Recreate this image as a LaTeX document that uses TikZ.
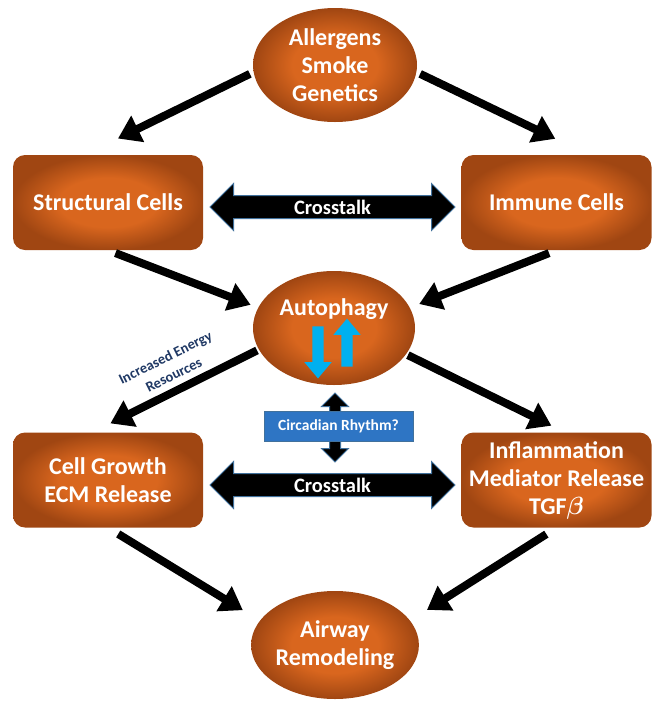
\documentclass[tikz,border=0pt]{standalone}
\usepackage{fontspec}
\setmainfont{Carlito}
\usetikzlibrary{shapes.geometric, shapes.arrows, arrows.meta}
\definecolor{orcenter}{HTML}{D9661E}
\definecolor{oredge}{HTML}{A04612}
\definecolor{xtalkline}{HTML}{41719C}
\definecolor{circblue}{HTML}{2E75C4}
\definecolor{updown}{HTML}{00B0F0}
\definecolor{energy}{HTML}{1F3864}
\pgfdeclareradialshading{orglow}{\pgfpoint{0bp}{0bp}}{color(0bp)=(orcenter); color(13bp)=(orcenter); color(25bp)=(oredge); color(50bp)=(oredge)}
\tikzset{
  big text/.style={text=white, font=\bfseries\fontsize{24}{28}\selectfont, align=center},
  oval node/.style={ellipse, shading=orglow, big text, inner sep=0pt},
  cell node/.style={rectangle, rounded corners=12pt, shading=orglow, big text, inner sep=0pt,
    minimum width=190pt, minimum height=95pt},
  flow/.style={line width=8pt, -{Triangle[length=22pt,width=28pt]}},
  crosstalk/.style={double arrow, fill=black, draw=xtalkline, line width=1pt,
    double arrow head extend=12pt, double arrow tip angle=90, minimum height=245pt,
    inner xsep=0pt, inner ysep=4pt, text height=14pt, text depth=0pt, text=white,
    font=\bfseries\fontsize{20.5}{24}\selectfont},
  updown arrow/.style={single arrow, fill=updown, inner sep=5.5pt,
    single arrow head extend=8pt, single arrow tip angle=80},
}
\begin{document}
\begin{tikzpicture}[x=1pt, y=-1pt]
    \useasboundingbox (0,0) rectangle (654,705);
    % Causes and outcome
    \node[oval node, minimum width=164pt, minimum height=114pt] (top) at (335,65) {Allergens\\Smoke\\Genetics};
    \node[oval node, minimum width=162pt, minimum height=114pt, text height=17pt, text depth=43pt] (auto) at (334,328) {Autophagy};
    \node[oval node, minimum width=156pt, minimum height=108pt] (airway) at (335,645) {Airway\\Remodeling};
    % Cells
    \node[cell node] (struct) at (108,202.5) {Structural Cells};
    \node[cell node] (immune) at (556.5,202.5) {Immune Cells};
    % Responses
    \node[cell node] (growth) at (108,480) {Cell Growth\\ECM Release};
    \node[cell node] (inflam) at (556.5,480) {Inflammation\\Mediator Release\\TGF{\boldmath$\beta$}};
    % Crosstalk
    \node[crosstalk] (xtop) at (332.5,207) {Crosstalk};
    \node[crosstalk] (xbot) at (332.5,485) {Crosstalk};
    % Autophagy up and down
    \node[updown arrow, rotate=-90, minimum height=52pt] (down) at (318,349) {};
    \node[updown arrow, rotate=90, minimum height=48pt] (up) at (347,346) {};
    % Circadian rhythm
    \node[double arrow, rotate=90, fill=black, draw=xtalkline, line width=1pt, inner sep=5pt,
      double arrow head extend=8pt, double arrow tip angle=90, minimum height=69pt] (rhythm) at (335,427.5) {};
    \node[rectangle, fill=circblue, draw=xtalkline, text=white, minimum width=149pt, minimum height=30pt,
      font=\bfseries\fontsize{15.5}{18}\selectfont] (circ) at (338.5,426) {Circadian Rhythm?};
    % Paths
    \path[flow]
    (top.185) edge [shorten <=4pt, shorten >=37pt] (struct.116)
    (top.-5) edge [shorten <=4pt, shorten >=37pt] (immune.56)
    (struct.south) edge [shorten <=8pt, shorten >=8pt] (auto.165)
    (immune.south) edge [shorten <=8pt, shorten >=10pt] (auto.15)
    (auto.196) edge [shorten <=2pt, shorten >=20pt] node [sloped, above=3pt, pos=0.47, text=energy, align=center,
        font=\bfseries\fontsize{14.5}{19}\selectfont] {Increased Energy\\Resources} (growth.108)
    (auto.-20) edge [shorten <=2pt, shorten >=15pt] (inflam.80)
    (growth.south) edge [shorten <=12pt, shorten >=20pt] (airway.162)
    (inflam.south) edge [shorten <=12pt, shorten >=20pt] (airway.18);
\end{tikzpicture}
\end{document}
